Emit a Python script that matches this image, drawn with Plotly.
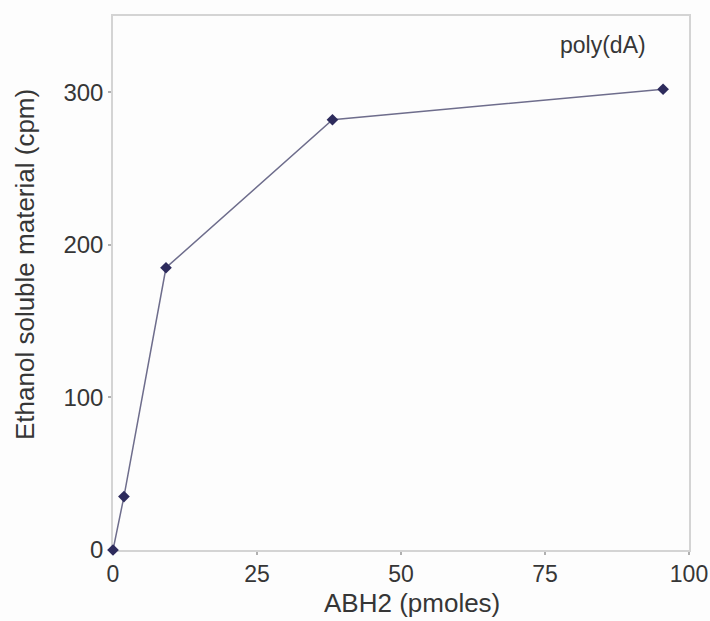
import plotly.graph_objects as go

abh2_pmoles = [0, 1.9, 9.2, 38.1, 95.5]
ethanol_cpm = [0, 35, 185, 282, 302]
x_ticks = [0, 25, 50, 75, 100]
y_ticks = [0, 100, 200, 300]

FONT = "Liberation Sans, Arial"
TXT = "#363636"

fig = go.Figure()
fig.add_trace(go.Scatter(
    x=abh2_pmoles, y=ethanol_cpm, mode="lines+markers",
    line=dict(color="#6e6d8c", width=1.5),
    marker=dict(symbol="diamond", size=9, color="#2d2b5c"),
    showlegend=False, cliponaxis=False,
))

axis_common = dict(
    showline=True, linecolor="#d4d4d4", linewidth=1.5, mirror=True,
    showgrid=False, zeroline=False, automargin=False, layer="below traces",
    ticks="outside", ticklen=3, tickcolor="#b0b0b0", tickwidth=1.5,
)

fig.update_xaxes(range=[0, 100], tickvals=x_ticks,
                 tickfont=dict(family=FONT, size=23, color=TXT),
                 **axis_common)
fig.update_yaxes(range=[0, 350], tickvals=y_ticks,
                 tickfont=dict(family=FONT, size=24, color=TXT),
                 **axis_common)

fig.add_annotation(x=0.519, y=-0.0993, xref="paper", yref="paper",
                   text="ABH2 (pmoles)", showarrow=False,
                   xanchor="center", yanchor="middle",
                   font=dict(family=FONT, size=26, color=TXT))
fig.add_annotation(x=-0.1528, y=0.5356, xref="paper", yref="paper",
                   text="Ethanol soluble material (cpm)", showarrow=False,
                   textangle=-90, xanchor="center", yanchor="middle",
                   font=dict(family=FONT, size=26, color=TXT))

fig.add_annotation(x=85, y=331, xref="x", yref="y", text="poly(dA)", showarrow=False,
                   font=dict(family=FONT, size=23, color=TXT))

fig.update_layout(
    width=710, height=621,
    margin=dict(l=113, r=21, t=16, b=71),
    plot_bgcolor="#fdfdfd", paper_bgcolor="#fdfdfd",
)

fig.write_html("out.html")
